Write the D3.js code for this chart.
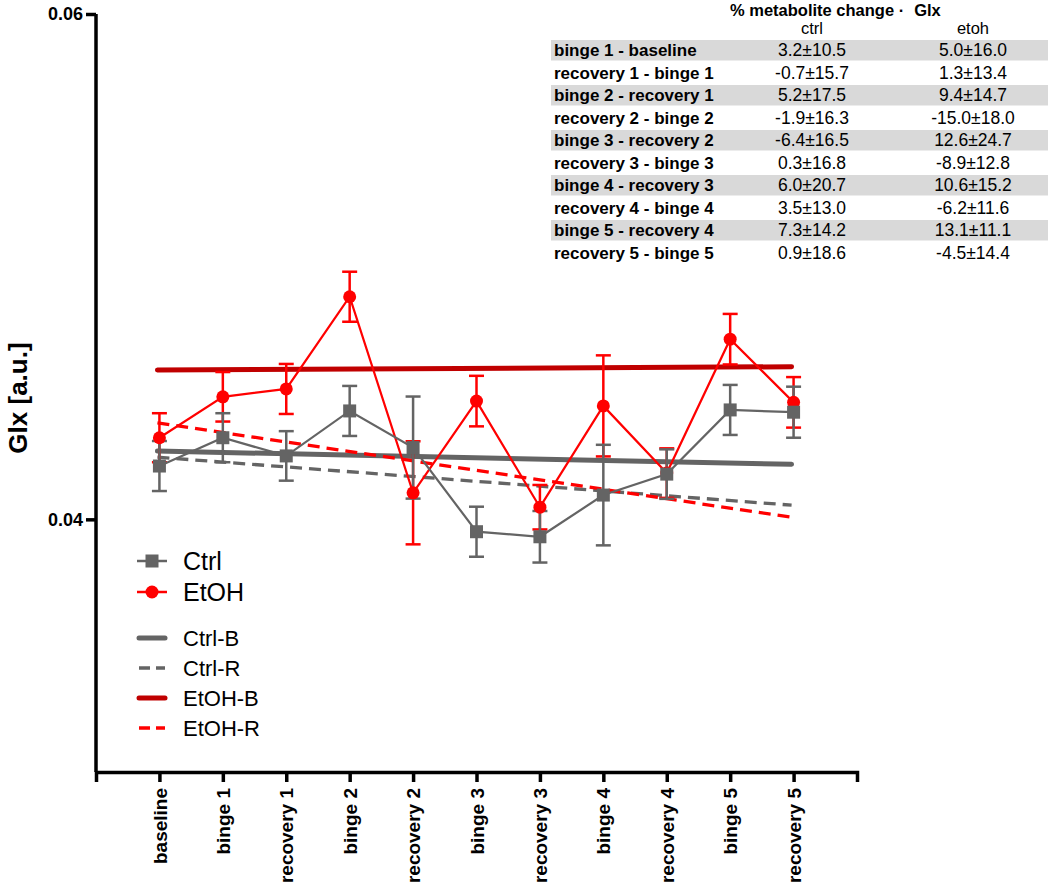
<!DOCTYPE html>
<html>
<head>
<meta charset="utf-8">
<script src="https://cdn.jsdelivr.net/npm/d3@7"></script>
<style>
  body { margin: 0; background: #fff; }
  svg { display: block; font-family: "Liberation Sans", Arial, sans-serif; }
  .axis path, .axis line { stroke: #000; stroke-width: 3.5; fill: none; }
  .axis text { font-weight: bold; fill: #000; }
</style>
</head>
<body>
<script>
// group means and SEM
var categories = ["baseline", "binge 1", "recovery 1", "binge 2", "recovery 2", "binge 3",
                  "recovery 3", "binge 4", "recovery 4", "binge 5", "recovery 5"];
var ctrlMean = [0.04211, 0.04323, 0.04251, 0.04429, 0.04284, 0.03951, 0.03931, 0.04096, 0.04179, 0.04433, 0.04424];
var ctrlSem  = [0.00099, 0.00097, 0.00098, 0.00099, 0.00202, 0.00099, 0.00102, 0.00199, 0.00098, 0.00099, 0.00101];
var etohMean = [0.04323, 0.04485, 0.04516, 0.04881, 0.04105, 0.04468, 0.04048, 0.04449, 0.04183, 0.04713, 0.04463];
var etohSem  = [0.00097, 0.00098, 0.00099, 0.00099, 0.00204, 0.00100, 0.00088, 0.00200, 0.00098, 0.00100, 0.00100];

// regression lines: value at baseline and at recovery 5
var trendNames = ["Ctrl-B", "Ctrl-R", "EtOH-B", "EtOH-R"];
var trendStart = [0.04270, 0.04246, 0.04591, 0.04382];
var trendEnd   = [0.04218, 0.04056, 0.04604, 0.04008];

var yTicks = [0.04, 0.06];

// table of % change
var tableTitle = "% metabolite change ·";
var tableMetab = "Glx";
var tableCols = ["ctrl", "etoh"];
var tableRows = ["binge 1 - baseline", "recovery 1 - binge 1", "binge 2 - recovery 1", "recovery 2 - binge 2",
                 "binge 3 - recovery 2", "recovery 3 - binge 3", "binge 4 - recovery 3", "recovery 4 - binge 4",
                 "binge 5 - recovery 4", "recovery 5 - binge 5"];
var tableCtrl = ["3.2±10.5", "-0.7±15.7", "5.2±17.5", "-1.9±16.3", "-6.4±16.5", "0.3±16.8", "6.0±20.7", "3.5±13.0", "7.3±14.2", "0.9±18.6"];
var tableEtoh = ["5.0±16.0", "1.3±13.4", "9.4±14.7", "-15.0±18.0", "12.6±24.7", "-8.9±12.8", "10.6±15.2", "-6.2±11.6", "13.1±11.1", "-4.5±14.4"];

var GRAY = "#646464", RED = "#ff0000", DARKRED = "#c00000";

var width = 1050, height = 887;
var mLeft = 96, mRight = 857, mTop = 14, mBottom = 772;

var svg = d3.select("body").append("svg")
    .attr("width", width)
    .attr("height", height);

var x = d3.scalePoint()
    .domain(categories)
    .range([mLeft, mRight])
    .padding(1);

var y = d3.scaleLinear()
    .domain([0.03, 0.06])
    .range([mBottom, mTop]);

// axes
var xAxis = d3.axisBottom(x)
    .tickSizeInner(10)
    .tickSizeOuter(10)
    .tickPadding(6);

var gx = svg.append("g")
    .attr("class", "axis axis--x")
    .attr("transform", "translate(0," + mBottom + ")")
    .call(xAxis);

gx.selectAll("text")
    .attr("font-size", 19)
    .attr("text-anchor", "end")
    .attr("transform", "rotate(-90)")
    .attr("x", -16)
    .attr("y", 0)
    .attr("dy", "0.35em");

var yAxis = d3.axisLeft(y)
    .tickValues(yTicks)
    .tickSizeInner(10)
    .tickSizeOuter(0)
    .tickPadding(3)
    .tickFormat(d3.format(".2f"));

var gy = svg.append("g")
    .attr("class", "axis axis--y")
    .attr("transform", "translate(" + mLeft + ",0)")
    .call(yAxis);

gy.select(".domain").attr("d", "M0," + mTop + "V" + mBottom);
gy.selectAll("text").attr("font-size", 18);

svg.append("text")
    .attr("transform", "translate(27," + ((mTop + mBottom) / 2 + 5) + ") rotate(-90)")
    .attr("text-anchor", "middle")
    .attr("font-size", 26)
    .attr("font-weight", "bold")
    .text("Glx [a.u.]");

// regression lines
var trendStyle = [
    {color: GRAY, w: 5, dash: null},
    {color: GRAY, w: 3.3, dash: "12,7"},
    {color: DARKRED, w: 5, dash: null},
    {color: RED, w: 3.3, dash: "12,7"}
];
var first = categories[0], last = categories[categories.length - 1];

svg.append("g").selectAll("line")
    .data(trendNames)
    .join("line")
    .attr("x1", x(first) - 2)
    .attr("x2", x(last) - 2)
    .attr("y1", function(d, i) { return y(trendStart[i]); })
    .attr("y2", function(d, i) { return y(trendEnd[i]); })
    .attr("stroke", function(d, i) { return trendStyle[i].color; })
    .attr("stroke-width", function(d, i) { return trendStyle[i].w; })
    .attr("stroke-dasharray", function(d, i) { return trendStyle[i].dash; })
    .attr("stroke-linecap", function(d, i) { return trendStyle[i].dash ? "butt" : "round"; });

// series
function series(mean, sem) {
    return categories.map(function(c, i) { return {cat: c, m: mean[i], e: sem[i]}; });
}
var ctrl = series(ctrlMean, ctrlSem);
var etoh = series(etohMean, etohSem);

var cap = 7.5;

function errorBars(data, color) {
    var g = svg.append("g")
        .attr("stroke", color)
        .attr("stroke-width", 2.5)
        .attr("fill", "none");
    var eb = g.selectAll("g").data(data).join("g");
    eb.append("line")
        .attr("x1", function(d) { return x(d.cat); })
        .attr("x2", function(d) { return x(d.cat); })
        .attr("y1", function(d) { return y(d.m + d.e); })
        .attr("y2", function(d) { return y(d.m - d.e); });
    eb.append("line")
        .attr("x1", function(d) { return x(d.cat) - cap; })
        .attr("x2", function(d) { return x(d.cat) + cap; })
        .attr("y1", function(d) { return y(d.m + d.e); })
        .attr("y2", function(d) { return y(d.m + d.e); });
    eb.append("line")
        .attr("x1", function(d) { return x(d.cat) - cap; })
        .attr("x2", function(d) { return x(d.cat) + cap; })
        .attr("y1", function(d) { return y(d.m - d.e); })
        .attr("y2", function(d) { return y(d.m - d.e); });
}

var line = d3.line()
    .x(function(d) { return x(d.cat); })
    .y(function(d) { return y(d.m); });

function seriesLine(data, color) {
    svg.append("path")
        .datum(data)
        .attr("fill", "none")
        .attr("stroke", color)
        .attr("stroke-width", 2.2)
        .attr("d", line);
}

errorBars(etoh, RED);
errorBars(ctrl, GRAY);
seriesLine(etoh, RED);
seriesLine(ctrl, GRAY);

svg.append("g").selectAll("circle")
    .data(etoh)
    .join("circle")
    .attr("cx", function(d) { return x(d.cat); })
    .attr("cy", function(d) { return y(d.m); })
    .attr("r", 6.5)
    .attr("fill", RED);

svg.append("g").selectAll("rect")
    .data(ctrl)
    .join("rect")
    .attr("x", function(d) { return x(d.cat) - 6.5; })
    .attr("y", function(d) { return y(d.m) - 6.5; })
    .attr("width", 13)
    .attr("height", 13)
    .attr("fill", GRAY);

// legend
var lx0 = 137, lx1 = 167, ltx = 183;

var l1 = svg.append("g").selectAll("g")
    .data([{name: "Ctrl", color: GRAY, sym: "square"}, {name: "EtOH", color: RED, sym: "circle"}])
    .join("g")
    .attr("transform", function(d, i) { return "translate(0," + (561 + i * 31) + ")"; });

l1.append("line")
    .attr("x1", lx0).attr("x2", lx1)
    .attr("stroke", function(d) { return d.color; })
    .attr("stroke-width", 2.5);

l1.filter(function(d) { return d.sym === "square"; })
    .append("rect")
    .attr("x", (lx0 + lx1) / 2 - 6.5).attr("y", -6.5)
    .attr("width", 13).attr("height", 13)
    .attr("fill", function(d) { return d.color; });

l1.filter(function(d) { return d.sym === "circle"; })
    .append("circle")
    .attr("cx", (lx0 + lx1) / 2)
    .attr("r", 6.5)
    .attr("fill", function(d) { return d.color; });

l1.append("text")
    .attr("x", ltx)
    .attr("dy", "0.36em")
    .attr("font-size", 25)
    .text(function(d) { return d.name; });

var l2 = svg.append("g").selectAll("g")
    .data(trendNames)
    .join("g")
    .attr("transform", function(d, i) { return "translate(0," + (638 + i * 30) + ")"; });

l2.append("line")
    .attr("x1", lx0 + 2).attr("x2", lx1 - 2)
    .attr("stroke", function(d, i) { return trendStyle[i].color; })
    .attr("stroke-width", function(d, i) { return trendStyle[i].w; })
    .attr("stroke-dasharray", function(d, i) { return trendStyle[i].dash ? "11,6" : null; })
    .attr("stroke-linecap", function(d, i) { return trendStyle[i].dash ? "butt" : "round"; });

l2.append("text")
    .attr("x", ltx)
    .attr("dy", "0.36em")
    .attr("font-size", 22)
    .text(function(d) { return d; });

// % change table
var tLeft = 551, tRight = 1048, tTop = 40, rowH = 22.5;
var colX = [812, 973];

var tg = svg.append("g").attr("font-size", 17.5);

tg.append("text")
    .attr("x", 730)
    .attr("y", 16)
    .attr("font-weight", "bold")
    .attr("font-size", 16.5)
    .text(tableTitle)
    .append("tspan")
    .attr("dx", 10)
    .text(tableMetab);

tg.selectAll(".colhead")
    .data(tableCols)
    .join("text")
    .attr("class", "colhead")
    .attr("x", function(d, i) { return colX[i]; })
    .attr("y", 34)
    .attr("text-anchor", "middle")
    .attr("font-size", 16.5)
    .text(function(d) { return d; });

var rows = tg.selectAll(".row")
    .data(tableRows)
    .join("g")
    .attr("class", "row")
    .attr("transform", function(d, i) { return "translate(0," + (tTop + i * rowH) + ")"; });

rows.filter(function(d, i) { return i % 2 === 0; })
    .append("rect")
    .attr("x", tLeft)
    .attr("width", tRight - tLeft)
    .attr("height", rowH - 2)
    .attr("fill", "#d9d9d9");

rows.append("text")
    .attr("x", tLeft + 3)
    .attr("y", rowH / 2 - 1)
    .attr("dy", "0.35em")
    .attr("font-weight", "bold")
    .attr("font-size", 17)
    .text(function(d) { return d; });

rows.append("text")
    .attr("x", colX[0])
    .attr("y", rowH / 2 - 1)
    .attr("dy", "0.35em")
    .attr("text-anchor", "middle")
    .text(function(d, i) { return tableCtrl[i]; });

rows.append("text")
    .attr("x", colX[1])
    .attr("y", rowH / 2 - 1)
    .attr("dy", "0.35em")
    .attr("text-anchor", "middle")
    .text(function(d, i) { return tableEtoh[i]; });
</script>
</body>
</html>
